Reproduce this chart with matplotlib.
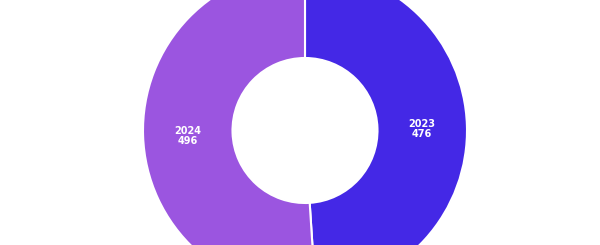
import matplotlib
matplotlib.use("Agg")
import matplotlib.pyplot as plt
import numpy as np

labels = ["2023", "2024"]
values = [476, 496]
colors = ["#4428E6", "#9B55E0"]

fig = plt.figure(figsize=(6, 2.45), dpi=100)
ax = fig.add_axes([0, 0, 1, 1])
R = 162
r_in = 72.5
wedges, _ = ax.pie(values, colors=colors, startangle=90, counterclock=False,
                   radius=R, wedgeprops=dict(width=R - r_in, edgecolor="white", linewidth=1.5))
total = sum(values)
start = 90
for lab, v in zip(labels, values):
    ang = start - v / total * 360 / 2
    start -= v / total * 360
    rr = (R + r_in) / 2
    x = rr * np.cos(np.deg2rad(ang))
    y = rr * np.sin(np.deg2rad(ang)) - 2
    ax.text(x, y, f"{lab}\n{v}", ha="center", va="center", color="white",
            fontsize=7, fontweight="bold", linespacing=0.95)
ax.set_xlim(-305, 295)
ax.set_ylim(-114.5, 130.5)
ax.set_aspect("auto")
ax.axis("off")
fig.savefig("out.png", dpi=100)
